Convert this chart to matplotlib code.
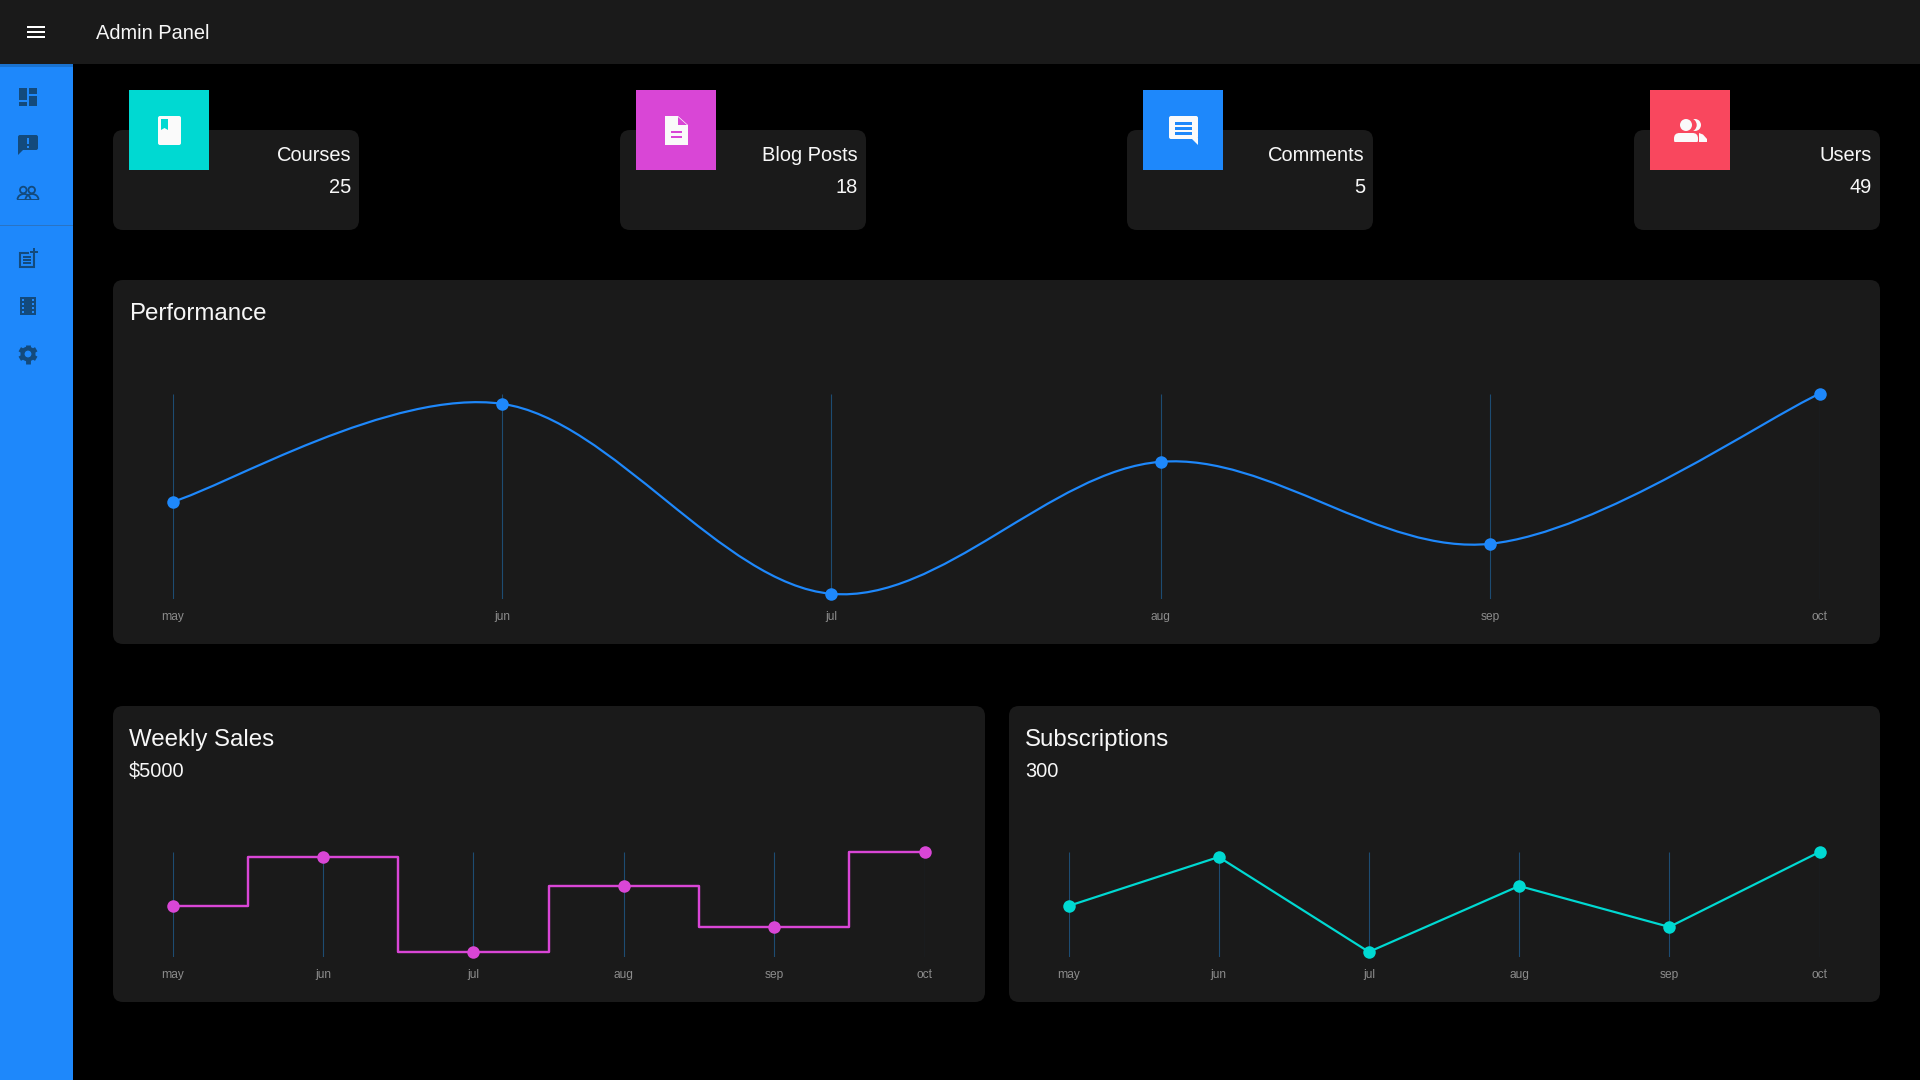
import numpy as np
import matplotlib
matplotlib.use('Agg')
import matplotlib.pyplot as plt
from matplotlib.patches import FancyBboxPatch, Rectangle, Circle, Polygon, PathPatch, Arc
from matplotlib.path import Path

plt.rcParams['font.family'] = ['Liberation Sans', 'DejaVu Sans']
plt.rcParams['text.hinting'] = 'native'

# data
months = ['may', 'jun', 'jul', 'aug', 'sep', 'oct']
performance = [46, 95, 0, 66, 25, 100]
weekly_sales = [46, 95, 0, 66, 25, 100]
subscriptions = [46, 95, 0, 66, 25, 100]
card_names = ['Courses', 'Blog Posts', 'Comments', 'Users']
card_counts = [25, 18, 5, 49]

BG = '#000000'
PANEL = '#1a1a1a'
BLUE = '#1e88fb'
TEAL = '#00d9d2'
MAGENTA = '#d946d6'
RED = '#f9475e'
DARK = '#134a7c'
GRID = '#1d4c72'
TEXT = '#f7f7f7'
TICK = '#8f8f8f'

W, H = 1920, 1080
fig = plt.figure(figsize=(W / 100, H / 100), dpi=100, facecolor=BG)
canvas = fig.add_axes([0, 0, 1, 1])
canvas.set_xlim(0, W)
canvas.set_ylim(H, 0)
canvas.axis('off')


def px(size):
    return size * 0.72


def rect(x0, y0, x1, y1, color, z=2):
    canvas.add_patch(Rectangle((x0, y0), x1 - x0, y1 - y0, fc=color, ec='none', zorder=z))


def rrect(x0, y0, x1, y1, color, r=10, z=2):
    canvas.add_patch(FancyBboxPatch((x0, y0), x1 - x0, y1 - y0, boxstyle='round,pad=0,rounding_size=%g' % r,
                                    fc=color, ec='none', zorder=z))


def circle(x, y, r, color, z=3):
    canvas.add_patch(Circle((x, y), r, fc=color, ec='none', zorder=z))


def label(x, y, s, size=20, ha='left', color=TEXT):
    canvas.text(x, y, s, fontsize=px(size), ha=ha, va='baseline', color=color, zorder=6)


# header and sidebar
rect(0, 0, W, 64, PANEL, 3)
rect(0, 64, 73, H, BLUE, 1)
rect(0, 64, 73, 67, '#1a72cf', 1.5)
rect(0, 225, 73, 226, '#2a74c4', 2)
for y in [26, 31.2, 36.4]:
    rect(27, y, 45, y + 1.9, '#ffffff', 4)
label(96, 39, 'Admin Panel')

# sidebar icons
rect(19, 88, 27, 100, DARK)
rect(29, 88, 37, 94, DARK)
rect(19, 102, 27, 106, DARK)
rect(29, 96, 37, 106, DARK)

rrect(18, 135, 38, 150, DARK, 2)
canvas.add_patch(Polygon([(18, 148), (18, 155), (24, 149)], fc=DARK, ec='none', zorder=2))
rect(27, 138, 29, 144, BLUE, 3)
rect(27, 146, 29, 148, BLUE, 3)

for cx, ax_x in [(23.3, 24), (31.7, 32)]:
    canvas.add_patch(Circle((cx, 190), 3.3, fc='none', ec=DARK, lw=1.3, zorder=3))
    canvas.add_patch(Arc((ax_x, 199.5), 13, 11, theta1=180, theta2=360, ec=DARK, lw=1.3, zorder=3))
rect(17, 198.8, 39, 200.2, DARK)

canvas.add_patch(Rectangle((20, 253), 14, 13.5, fc='none', ec=DARK, lw=1.5, zorder=3))
rect(29, 248, 38, 254, BLUE, 3)
rect(33, 248, 35, 257, DARK, 4)
rect(29.5, 251, 38, 253, DARK, 4)
for y in [256, 259, 262]:
    rect(23, y, 31, y + 1.6, DARK, 4)

rect(20, 297, 36, 315, DARK)
for y in [299, 303, 307, 311]:
    rect(22, y, 24, y + 2, BLUE, 3)
    rect(32, y, 34, y + 2, BLUE, 3)

for a in np.arange(0, 360, 60):
    dx, dy = np.cos(np.radians(a + 30)), np.sin(np.radians(a + 30))
    canvas.plot([28 + 6 * dx, 28 + 9.5 * dx], [354 + 6 * dy, 354 + 9.5 * dy], color=DARK, lw=3.5,
                solid_capstyle='butt', zorder=3)
circle(28, 354, 7.5, DARK, 3)
circle(28, 354, 3.4, BLUE, 4)

# stat cards
card_left = [113, 620, 1127, 1634]
card_colors = [TEAL, MAGENTA, BLUE, RED]
for x, name, count, color in zip(card_left, card_names, card_counts, card_colors):
    rrect(x, 130, x + 246, 230, PANEL)
    rect(x + 16, 90, x + 96, 170, color, 3)
    label(x + 238, 161, name, ha='right')
    label(x + 238, 193, str(count), ha='right')

# book icon
rrect(158, 116, 181, 145, '#fafafa', 2, 4)
rect(161, 119, 168, 130, TEAL, 5)
canvas.add_patch(Polygon([(161, 130), (164.5, 128), (168, 130)], fc='#fafafa', ec='none', zorder=6))

# doc icon
canvas.add_patch(Polygon([(665, 116), (678, 116), (688, 125), (688, 145), (665, 145)], fc='#fafafa', ec='none',
                         joinstyle='round', zorder=4))
canvas.add_patch(Polygon([(678, 117), (687, 125), (678, 125)], fc=MAGENTA, ec='none', zorder=5))
for y in [130.5, 135.5]:
    rect(671, y, 682, y + 2.5, MAGENTA, 5)

# comment icon
rrect(1169, 116, 1198, 139, '#fafafa', 2, 4)
canvas.add_patch(Polygon([(1191, 138), (1198, 138), (1198, 145)], fc='#fafafa', ec='none', zorder=4))
for y in [122, 127, 132]:
    rect(1175, y, 1192, y + 2.5, BLUE, 5)

# users icon
circle(1695, 125, 6, '#fafafa', 4)
circle(1690, 125, 6.7, RED, 4.5)
circle(1686, 125, 6, '#fafafa', 5)
canvas.add_patch(Polygon([(1699, 142), (1707, 142), (1707, 139), (1703, 134.5), (1699, 133)], fc='#fafafa', ec='none', zorder=5))
canvas.add_patch(FancyBboxPatch((1674, 133), 24, 12, boxstyle='round,pad=0,rounding_size=5.5', fc='#fafafa', ec='none', zorder=5))
rect(1674, 142, 1699, 146, RED, 5.6)

# chart panels
rrect(113, 280, 1880, 644, PANEL)
rrect(113, 706, 985, 1002, PANEL)
rrect(1009, 706, 1880, 1002, PANEL)
label(129, 320, 'Performance', 24)
label(129, 746, 'Weekly Sales', 24)
label(129, 777, '$5000')
label(1025, 746, 'Subscriptions', 24)
label(1025, 777, '300')


def chart_axes(x0, x1, y_top, y_bottom, ymin):
    ax = fig.add_axes([x0 / W, 1 - y_bottom / H, (x1 - x0) / W, (y_bottom - y_top) / H])
    ax.patch.set_alpha(0)
    ax.set_xlim(0, len(months) - 1)
    ax.set_ylim(ymin, 100)
    for s in ax.spines.values():
        s.set_visible(False)
    ax.set_yticks([])
    ax.set_xticks(range(len(months)))
    ax.set_xticklabels(months, fontsize=px(12), color=TICK, va='baseline')
    ax.tick_params(axis='x', length=0, pad=15.4)
    ax.vlines(range(len(months)), ymin, 100, color=GRID, lw=0.8, zorder=1)
    return ax


def smooth_path(values):
    # catmull-rom through the points, written as bezier segments
    pts = np.column_stack([np.arange(len(values)), values]).astype(float)
    ext = np.vstack([pts[0], pts, pts[-1]])
    verts = [pts[0]]
    codes = [Path.MOVETO]
    for i in range(1, len(ext) - 2):
        verts += [ext[i] + (ext[i + 1] - ext[i - 1]) / 6, ext[i + 1] - (ext[i + 2] - ext[i]) / 6, ext[i + 1]]
        codes += [Path.CURVE4] * 3
    return Path(verts, codes)


def dots(ax, values, color):
    ax.plot(range(len(values)), values, ls='none', marker='o', ms=px(12.5), mfc=color, mec='none', clip_on=False, zorder=4)


# performance
ax1 = chart_axes(172.5, 1819.5, 393.8, 598.8, -2.5)
ax1.add_patch(PathPatch(smooth_path(performance), fc='none', ec=BLUE, lw=px(2.2), clip_on=False, zorder=3))
dots(ax1, performance, BLUE)

# weekly sales
ax2 = chart_axes(172.5, 924.5, 852, 956.7, -4.8)
ax2.step(range(len(months)), weekly_sales, where='mid', color=MAGENTA, lw=px(2.4), clip_on=False, zorder=3)
dots(ax2, weekly_sales, MAGENTA)

# subscriptions
ax3 = chart_axes(1068.5, 1819.5, 852, 956.7, -4.8)
ax3.plot(range(len(months)), subscriptions, color=TEAL, lw=px(2.2), clip_on=False, zorder=3)
dots(ax3, subscriptions, TEAL)

fig.savefig('out.png', dpi=100, facecolor=BG)
